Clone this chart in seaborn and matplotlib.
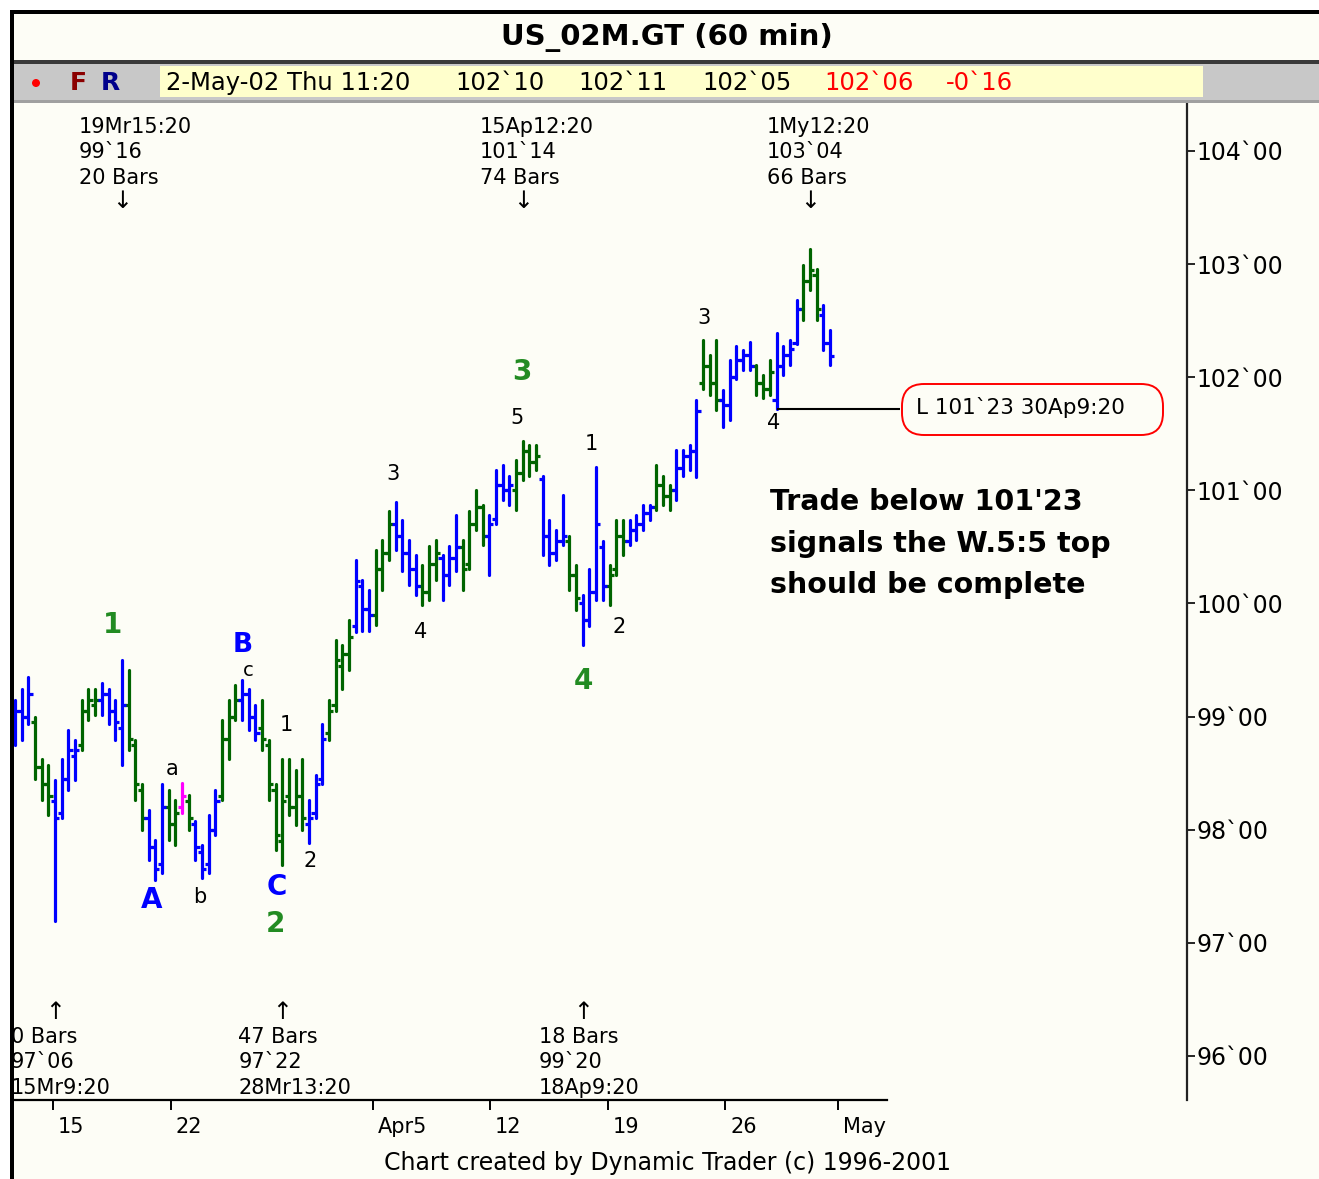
import numpy as np
import pandas as pd
import matplotlib
matplotlib.use("Agg")
import matplotlib.pyplot as plt
import seaborn as sns
from matplotlib import transforms
from matplotlib.patches import Rectangle, FancyBboxPatch, Circle

# ---------------- data (2-hour OHLC bars) ----------------
opens = [98.90, 99.05, 99.00, 98.95, 98.55, 98.40, 98.25, 98.15, 98.45, 98.65,
         98.75, 99.05, 99.10, 99.15, 99.20, 99.05, 98.90, 99.10, 98.75, 98.35,
         98.10, 97.85, 97.70, 98.20, 98.05, 98.20, 98.25, 98.05, 97.80, 97.70,
         98.00, 98.30, 98.80, 99.00, 99.15, 99.20, 99.00, 98.90, 98.75, 98.35,
         97.90, 98.30, 98.20, 98.30, 98.05, 98.15, 98.45, 98.85, 99.10, 99.45,
         99.55, 99.80, 100.15, 99.95, 99.90, 100.30, 100.45, 100.70, 100.60, 100.45,
         100.30, 100.15, 100.10, 100.35, 100.40, 100.25, 100.40, 100.50, 100.35, 100.70,
         100.85, 100.60, 100.75, 101.05, 101.00, 101.00, 101.15, 101.35, 101.25, 101.10,
         100.60, 100.45, 100.55, 100.55, 100.25, 100.00, 99.85, 100.10, 100.50, 100.15,
         100.30, 100.60, 100.55, 100.65, 100.70, 100.80, 100.85, 101.05, 100.95, 101.00,
         101.20, 101.30, 101.35, 101.95, 102.10, 101.95, 101.80, 101.75, 102.00, 102.15,
         102.20, 102.10, 101.95, 101.90, 101.80, 102.10, 102.20, 102.30, 102.60, 102.85,
         102.90, 102.55, 102.30]
highs = [99.15, 99.24, 99.35, 99.00, 98.62, 98.57, 98.44, 98.62, 98.88, 98.79,
         99.15, 99.24, 99.24, 99.30, 99.24, 99.15, 99.50, 99.41, 98.79, 98.40,
         98.17, 97.91, 98.40, 98.35, 98.26, 98.41, 98.31, 98.08, 97.86, 98.13,
         98.35, 98.97, 99.15, 99.28, 99.32, 99.24, 99.10, 99.15, 98.79, 98.40,
         98.62, 98.62, 98.53, 98.62, 98.26, 98.48, 98.93, 99.15, 99.68, 99.63,
         99.85, 100.38, 100.21, 100.12, 100.47, 100.56, 100.82, 100.90, 100.74, 100.56,
         100.43, 100.34, 100.51, 100.56, 100.43, 100.51, 100.78, 100.56, 100.82, 101.00,
         100.87, 100.78, 101.18, 101.22, 101.13, 101.27, 101.44, 101.40, 101.40, 101.13,
         100.74, 100.65, 100.96, 100.60, 100.34, 100.07, 100.30, 101.21, 100.55, 100.34,
         100.74, 100.74, 100.74, 100.78, 100.87, 100.87, 101.22, 101.13, 101.05, 101.36,
         101.36, 101.40, 101.80, 102.33, 102.20, 102.33, 101.89, 102.15, 102.28, 102.24,
         102.31, 102.11, 102.02, 102.15, 102.39, 102.28, 102.33, 102.68, 102.99, 103.13,
         102.96, 102.64, 102.42]
lows = [98.75, 98.79, 98.93, 98.45, 98.26, 98.13, 97.19, 98.10, 98.35, 98.44,
        98.70, 98.97, 99.01, 99.01, 98.93, 98.79, 98.57, 98.70, 98.26, 98.00,
        97.73, 97.55, 97.62, 97.91, 97.86, 98.15, 98.00, 97.73, 97.57, 97.62,
        97.95, 98.26, 98.62, 98.97, 98.97, 98.88, 98.79, 98.70, 98.26, 97.82,
        97.69, 98.13, 98.04, 98.00, 97.88, 98.10, 98.40, 98.79, 99.05, 99.24,
        99.41, 99.75, 99.76, 99.76, 99.81, 100.12, 100.38, 100.47, 100.29, 100.16,
        100.07, 99.99, 100.03, 100.21, 100.03, 100.16, 100.29, 100.12, 100.30, 100.65,
        100.52, 100.25, 100.70, 100.91, 100.87, 100.83, 101.09, 101.13, 101.18, 100.43,
        100.34, 100.38, 100.52, 100.12, 99.94, 99.63, 99.80, 100.03, 100.03, 99.99,
        100.25, 100.43, 100.52, 100.56, 100.65, 100.74, 100.83, 100.87, 100.83, 100.91,
        101.13, 101.18, 101.12, 101.90, 101.84, 101.71, 101.56, 101.62, 101.98, 102.06,
        102.06, 101.84, 101.82, 101.84, 101.72, 102.02, 102.11, 102.29, 102.51, 102.77,
        102.51, 102.24, 102.11]
closes = [99.05, 99.00, 99.20, 98.55, 98.40, 98.30, 98.10, 98.45, 98.70, 98.70,
          99.05, 99.15, 99.15, 99.20, 99.05, 98.95, 99.10, 98.80, 98.40, 98.10,
          97.85, 97.65, 98.20, 98.05, 98.15, 98.30, 98.10, 97.85, 97.65, 98.00,
          98.25, 98.80, 99.00, 99.15, 99.20, 99.00, 98.85, 98.80, 98.40, 97.95,
          98.25, 98.20, 98.30, 98.10, 98.10, 98.40, 98.80, 99.05, 99.50, 99.55,
          99.70, 100.20, 99.95, 99.90, 100.30, 100.45, 100.70, 100.60, 100.45, 100.30,
          100.15, 100.10, 100.35, 100.45, 100.25, 100.40, 100.50, 100.30, 100.70, 100.85,
          100.60, 100.70, 101.05, 101.00, 101.05, 101.15, 101.35, 101.25, 101.30, 100.60,
          100.45, 100.55, 100.60, 100.25, 100.05, 99.85, 100.10, 100.70, 100.15, 100.25,
          100.60, 100.55, 100.65, 100.70, 100.80, 100.85, 101.05, 100.95, 101.00, 101.20,
          101.30, 101.35, 101.70, 102.10, 101.95, 101.80, 101.75, 102.00, 102.15, 102.20,
          102.10, 101.95, 101.90, 102.05, 102.10, 102.20, 102.25, 102.60, 102.85, 102.95,
          102.60, 102.30, 102.19]
bar_colors = ("bbbgggbbbb" "gggbbbbggg" "bbbggmgbbb" "bgggbbbggg" "ggggbbbggg"
              "gbbbgggbbb" "bgggbbbggg" "gbbbbggggb" "bbbggbbbbg" "ggbbbbgggb"
              "bbbgggbbbb" "bgggbbbbgg" "gbb")

y_ticks = [96, 97, 98, 99, 100, 101, 102, 103, 104]
y_tick_labels = [f"{v}`00" for v in y_ticks]
x_tick_pos = [5.69, 23.35, 53.59, 71.11, 88.77, 106.29, 123.20]
x_tick_labels = ["15", "22", "Apr5", "12", "19", "26", "May"]

top_pivots = [16, 76, 119]
top_pivot_text = [["19Mr15:20", "99`16", "20 Bars"],
                  ["15Ap12:20", "101`14", "74 Bars"],
                  ["1My12:20", "103`04", "66 Bars"]]
bot_pivots = [6, 40, 85]
bot_pivot_text = [["0 Bars", "97`06", "15Mr9:20"],
                  ["47 Bars", "97`22", "28Mr13:20"],
                  ["18 Bars", "99`20", "18Ap9:20"]]
level_bar = 114

info_items = ["2-May-02 Thu 11:20", "102`10", "102`11", "102`05", "102`06", "-0`16"]

# ---------------- layout ----------------
W, H = 1319, 1179
X0, DX = 15.0, 6.68          # pixel of bar 0 and pixels per bar
CREAM = "#FDFDF6"
GREEN = "#006400"
BLUE = "#0000FF"
PAL = {"g": GREEN, "b": BLUE, "m": "#FF00FF"}
WAVE_G = "#228B22"

sns.set_theme(style="white")
plt.rcParams["font.family"] = ["DejaVu Sans"]
plt.rcParams["text.color"] = "black"
plt.rcParams["xtick.color"] = "black"
plt.rcParams["ytick.color"] = "black"
plt.rcParams["axes.labelcolor"] = "black"

fig = plt.figure(figsize=(W / 100, H / 100), dpi=100, facecolor=CREAM)
P = transforms.Affine2D().scale(1 / W, -1 / H).translate(0, 1) + fig.transFigure

ax_l, ax_r, ax_t, ax_b = 12, 1187, 103, 1100
ax = fig.add_axes([ax_l / W, 1 - ax_b / H, (ax_r - ax_l) / W, (ax_b - ax_t) / H])
ax.set_facecolor(CREAM)

px_per_pt = 113.1
ax.set_xlim((ax_l - X0) / DX, (ax_r - X0) / DX)
ax.set_ylim(104 - (ax_b - 151) / px_per_pt, 104 + (151 - ax_t) / px_per_pt)

n = len(closes)
idx = np.arange(n)
cols = np.array(list(bar_colors[:n]))
df = pd.DataFrame({
    "bar": np.repeat(idx, 2),
    "price": np.ravel(np.column_stack([lows, highs])),
    "col": np.repeat(cols, 2),
})
LW = 2.3
sns.lineplot(data=df, x="bar", y="price", units="bar", estimator=None,
             hue="col", palette=PAL, legend=False, linewidth=LW, ax=ax,
             sort=False)
o = np.array(opens); c = np.array(closes)
TK = 0.62
for key, colr in PAL.items():
    m = cols == key
    ax.hlines(o[m], idx[m] - TK, idx[m], color=colr, lw=LW)
    ax.hlines(c[m], idx[m], idx[m] + TK, color=colr, lw=LW)

ax.set_xlabel("")
ax.set_ylabel("")

# level line to the box
ax.hlines(lows[level_bar], level_bar, (900 - X0) / DX, color="black", lw=1.5)

# axes styling
for s in ["top", "left"]:
    ax.spines[s].set_visible(False)
ax.spines["right"].set_color("#222222")
ax.spines["right"].set_linewidth(1.6)
ax.spines["bottom"].set_color("black")
ax.spines["bottom"].set_linewidth(1.6)
ax.spines["bottom"].set_bounds((ax_l - 3 - X0) / DX, (887 - X0) / DX)

ax.yaxis.tick_right()
ax.set_yticks(y_ticks)
ax.set_yticklabels(y_tick_labels)
ax.tick_params(axis="y", which="major", direction="out", length=6, width=1.2,
               pad=1, labelsize=17, colors="black", right=True, left=False)
ax.set_xticks(x_tick_pos)
ax.set_xticklabels(x_tick_labels)
ax.tick_params(axis="x", which="major", direction="out", length=7, width=1.4,
               pad=5, labelsize=15, colors="black", bottom=True)
off = transforms.ScaledTranslation(0.05, 0, fig.dpi_scale_trans)
for lab in ax.get_xticklabels():
    lab.set_horizontalalignment("left")
    lab.set_transform(lab.get_transform() + off)

# pivot annotations (x tied to the pivot bar)
bl = transforms.blended_transform_factory(ax.transData, P)
for b, lines in zip(top_pivots, top_pivot_text):
    t_off = transforms.offset_copy(bl, fig=fig, x=-43, y=0, units="dots")
    for yy, s in zip([127, 152, 178], lines):
        ax.text(b, yy, s, transform=t_off, ha="left", va="center", fontsize=15)
    ax.text(b, 201, "↓", transform=bl, ha="center", va="center", fontsize=17)
for b, lines in zip(bot_pivots, bot_pivot_text):
    t_off = transforms.offset_copy(bl, fig=fig, x=-44, y=0, units="dots")
    for yy, s in zip([1037, 1062, 1088], lines):
        ax.text(b, yy, s, transform=t_off, ha="left", va="center", fontsize=15)
    ax.text(b, 1012, "↑", transform=bl, ha="center", va="center", fontsize=17)

# wave labels
waves = [("1", 113, 625, WAVE_G, 20, "bold"), ("A", 152, 900, BLUE, 20, "bold"),
         ("B", 243, 645, BLUE, 19, "bold"), ("C", 277, 887, BLUE, 20, "bold"),
         ("2", 275, 924, WAVE_G, 20, "bold"), ("3", 522, 372, WAVE_G, 20, "bold"),
         ("4", 583, 681, WAVE_G, 20, "bold"),
         ("a", 172, 769, "black", 15, "normal"), ("b", 200, 897, "black", 15, "normal"),
         ("c", 248, 671, "black", 14, "normal"), ("1", 286, 725, "black", 15, "normal"),
         ("2", 310, 861, "black", 15, "normal"), ("3", 393, 474, "black", 15, "normal"),
         ("4", 421, 632, "black", 15, "normal"), ("5", 517, 418, "black", 15, "normal"),
         ("1", 591, 444, "black", 15, "normal"), ("2", 619, 627, "black", 15, "normal"),
         ("3", 704, 318, "black", 15, "normal"), ("4", 774, 423, "black", 15, "normal")]
for s, x, y, colr, fs, fw in waves:
    fig.text(x, y, s, transform=P, ha="center", va="center", color=colr,
             fontsize=fs, fontweight=fw)

# level box
box = FancyBboxPatch((902, 384), 261, 51, boxstyle="round,pad=0,rounding_size=22",
                     transform=P, ec="#FF0000", fc=CREAM, lw=1.4, zorder=4)
fig.add_artist(box)
fig.text(916, 408, "L 101`23 30Ap9:20", transform=P, ha="left", va="center",
         fontsize=15.5, zorder=5)

# message
for yy, s in zip([502, 544, 585], ["Trade below 101'23", "signals the W.5:5 top",
                                    "should be complete"]):
    fig.text(770, yy, s, transform=P, ha="left", va="center", fontsize=20.5,
             fontweight="bold")

# ---------------- frame / header ----------------
fig.add_artist(Rectangle((0, 0), W, 10, transform=P, fc="white", ec="none", zorder=6))
fig.add_artist(Rectangle((0, 0), 10, H, transform=P, fc="white", ec="none", zorder=6))
fig.add_artist(Rectangle((10, 10), W - 10, 3.5, transform=P, fc="black", ec="none", zorder=7))
fig.add_artist(Rectangle((10, 10), 4, H - 10, transform=P, fc="black", ec="none", zorder=7))
fig.add_artist(Rectangle((14, 60), W - 14, 3.5, transform=P, fc="#3A3A3A", ec="none", zorder=6))
fig.add_artist(Rectangle((14, 63.5), W - 14, 37, transform=P, fc="#C8C8C8", ec="none", zorder=5))
fig.add_artist(Rectangle((14, 100), W - 14, 2.5, transform=P, fc="#A0A0A0", ec="none", zorder=6))
fig.add_artist(Rectangle((160, 66), 1043, 31, transform=P, fc="#FFFFCC", ec="none", zorder=6))

fig.text(667, 37, "US_02M.GT (60 min)", transform=P, ha="center", va="center",
         fontsize=21, fontweight="bold", zorder=8)
fig.add_artist(Circle((36, 83), 4, transform=P, fc="#FF0000", ec="none", zorder=8))
fig.text(78, 83, "F", transform=P, ha="center", va="center", fontsize=18,
         fontweight="bold", color="#8B0000", zorder=8)
fig.text(110, 83, "R", transform=P, ha="center", va="center", fontsize=18,
         fontweight="bold", color="#00008B", zorder=8)
info_x = [166, 455, 578, 702, 824, 946]
info_c = ["black", "black", "black", "black", "#FF0000", "#FF0000"]
for s, x, colr in zip(info_items, info_x, info_c):
    fig.text(x, 83, s, transform=P, ha="left", va="center", fontsize=17.5,
             color=colr, zorder=8)

fig.text(667, 1163, "Chart created by Dynamic Trader (c) 1996-2001", transform=P,
         ha="center", va="center", fontsize=17)

fig.savefig("out.png", dpi=100, facecolor=CREAM)
